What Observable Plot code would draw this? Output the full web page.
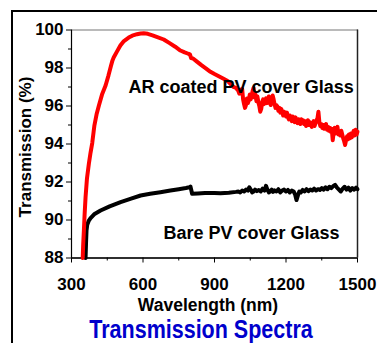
<!DOCTYPE html>
<html><head><meta charset="utf-8">
<script src="https://cdn.jsdelivr.net/npm/d3@7"></script>
<script src="https://cdn.jsdelivr.net/npm/@observablehq/plot@0.6"></script>
<style>
body{margin:0;background:#fff;}
#wrap{position:relative;width:377px;height:343px;overflow:hidden;background:#fff;font-family:"Liberation Sans",Arial,sans-serif;}
#border{position:absolute;left:11px;top:10px;width:400px;height:400px;border-top:2px solid #000;border-left:2px solid #000;pointer-events:none;}
#chart{position:absolute;left:0;top:0;}
#title{position:absolute;left:0;top:317px;width:402px;text-align:center;font-size:25px;line-height:25px;font-weight:bold;color:#0000cc;transform:scaleX(0.86);transform-origin:201px 0;white-space:nowrap;}
</style></head>
<body><div id="wrap"><div id="chart"></div><div id="title">Transmission Spectra</div><div id="border"></div></div>
<script>
const xTicks = [300, 600, 900, 1200, 1500];
const xMinor = [450, 750, 1050, 1350];
const yTicks = [88, 90, 92, 94, 96, 98, 100];
const yMinor = [89, 91, 93, 95, 97, 99];

const arW = [347,349,352,355,359,365,373,380,387,396,405,415,428,443,455,466,472,477,490,505,520,540,555,575,590,603,620,640,660,687,710,735,757,775,790,797,802,810,825,845,865,883,900,920,940,955,968,980,990,
1000,1004,1008,1012,1016,1020,1024,1028,1032,1036,
1040,1044,1048,1052,1056,1060,1064,1068,1072,1076,
1080,1084,1088,1092,1096,1100,1104,1108,1112,1116,
1120,1124,1128,1132,1136,1140,1144,1148,1152,1156,
1160,1164,1168,1172,1176,1180,1184,1188,1192,1196,
1200,1204,1208,1212,1216,1220,1224,1228,1232,1236,
1240,1244,1248,1252,1256,1260,1264,1268,1272,1276,
1280,1284,1288,1292,1296,1300,1304,1308,1312,1316,
1320,1324,1328,1332,1336,1340,1344,1348,1352,1356,
1360,1364,1368,1372,1376,1380,1384,1388,1392,1396,
1400,1404,1408,1412,1416,1420,1424,1428,1432,1436,
1440,1444,1448,1452,1456,1460,1464,1468,1472,1476,
1480,1484,1488,1492,1496,1500];
const arT = [88.0,88.7,89.45,90.3,91.2,92.2,92.97,93.55,94.05,94.97,95.55,96.03,96.6,97.08,97.6,98.13,98.4,98.55,98.85,99.18,99.42,99.6,99.7,99.78,99.82,99.83,99.8,99.72,99.63,99.5,99.32,99.12,98.92,98.82,98.75,98.72,98.52,98.5,98.35,98.15,97.97,97.8,97.68,97.55,97.42,97.32,97.15,97.0,96.95,
96.8,96.65,96.85,96.7,96.9,96.35,96.1,95.9,96.05,96.4,
96.15,96.3,96.6,96.35,96.55,96.8,96.95,96.45,96.6,96.25,
96.5,96.2,96.0,95.7,95.85,96.2,96.35,96.1,96.3,96.4,
96.15,96.35,96.5,96.2,96.05,96.3,96.55,96.35,96.1,95.9,
96.05,95.95,95.75,95.9,95.65,95.85,95.7,95.5,95.7,95.55,
95.45,95.65,95.4,95.3,95.5,95.35,95.2,95.45,95.3,95.15,
95.4,95.25,95.1,95.3,95.2,95.05,95.3,95.15,95.25,95.05,
95.2,94.95,95.15,95.25,95.0,95.15,95.05,94.9,95.1,95.2,
94.95,95.1,95.25,95.35,95.7,95.15,94.95,95.05,94.85,95.0,
94.8,94.95,95.05,94.75,94.9,94.7,94.85,94.65,94.8,94.2,
94.6,94.85,94.55,94.75,94.9,94.5,94.65,94.45,94.7,94.5,
94.3,94.15,93.95,94.2,94.4,94.25,94.5,94.3,94.55,94.35,
94.5,94.7,94.45,94.75,94.5,94.65];

const bareW = [359,361,363,366,372,380,395,422,460,506,550,590,630,673,715,750,780,795,799,803,806,830,860,900,925,960,990,
1000,1008,1016,1024,1032,1040,1046,1052,1058,1064,1070,1078,1086,1094,1102,1110,1116,1122,1128,1134,1140,1146,1152,1160,1168,1176,1184,1192,1200,1208,1216,1224,1232,1238,1244,1250,1256,1262,1270,1278,1286,1294,1302,1310,1318,1326,1334,1342,1350,1358,1366,1374,1382,1390,1398,1406,1414,1422,1430,1438,1446,1454,1462,1470,1478,1486,1494,1500];
const bareT = [88.0,88.8,89.45,89.75,89.95,90.1,90.3,90.5,90.72,90.94,91.12,91.29,91.38,91.46,91.55,91.62,91.68,91.72,91.76,91.55,91.38,91.4,91.42,91.42,91.41,91.44,91.48,
91.5,91.45,91.55,91.5,91.6,91.55,91.72,91.6,91.45,91.5,91.6,91.52,91.58,91.5,91.65,91.55,91.8,91.6,91.45,91.5,91.6,91.48,91.56,91.5,91.62,91.45,91.55,91.6,91.5,91.58,91.45,91.55,91.5,91.35,91.05,91.3,91.5,91.45,91.58,91.5,91.62,91.52,91.6,91.55,91.65,91.55,91.62,91.58,91.68,91.6,91.72,91.62,91.75,91.68,91.78,91.85,91.7,91.6,91.5,91.65,91.75,91.6,91.7,91.55,91.68,91.6,91.7,91.62];

const ar = arW.map((w, i) => ({w, t: arT[i]}));
const bare = bareW.map((w, i) => ({w, t: bareT[i]}));

const chart = Plot.plot({
  width: 377, height: 316,
  marginLeft: 71, marginRight: 20, marginTop: 29.5, marginBottom: 58.5,
  style: {fontFamily: "'Liberation Sans', Arial, sans-serif", fontWeight: "bold", color: "#000", background: "transparent", overflow: "visible"},
  x: {domain: [300, 1500]},
  y: {domain: [88, 100]},
  marks: [
    Plot.frame({stroke: "#777", strokeWidth: 1}),
    Plot.axisX({ticks: xMinor, tickSize: 3, tickFormat: () => "", label: null}),
    Plot.axisX({ticks: xTicks, tickSize: 5, tickPadding: 15, fontSize: 17, label: null, tickFormat: d => String(d)}),
    Plot.axisY({ticks: yMinor, tickSize: 3, tickFormat: () => "", label: null}),
    Plot.axisY({ticks: yTicks, tickSize: 5, tickPadding: 3, fontSize: 17, label: null, tickFormat: d => String(d)}),
    Plot.ruleY([88], {stroke: "#000", strokeWidth: 1.5}),
    Plot.ruleX([300], {stroke: "#000", strokeWidth: 1.2}),
    Plot.ruleX([1500], {stroke: "#222", strokeWidth: 1.5}),
    Plot.line(bare, {x: "w", y: "t", stroke: "#000", strokeWidth: 4, strokeLinejoin: "round"}),
    Plot.line(ar, {x: "w", y: "t", stroke: "#ff0000", strokeWidth: 4, strokeLinejoin: "round"}),
    Plot.text(["AR coated PV cover Glass"], {x: 1484, y: 97.0, text: d => d, textAnchor: "end", lineAnchor: "middle", fontSize: 18, fontWeight: "bold", fill: "#000"}),
    Plot.text(["Bare PV cover Glass"], {x: 1425, y: 89.29, text: d => d, textAnchor: "end", lineAnchor: "middle", fontSize: 18, fontWeight: "bold", fill: "#000"}),
    Plot.text(["Wavelength (nm)"], {frameAnchor: "bottom", text: d => d, textAnchor: "middle", dx: -6.5, dy: 40.5, lineAnchor: "top", fontSize: 17.5, fontWeight: "bold", fill: "#000"}),
    Plot.text(["Transmission (%)"], {frameAnchor: "left", text: d => d, textAnchor: "middle", rotate: -90, dx: -45.5, dy: 3, lineAnchor: "middle", fontSize: 17, fontWeight: "bold", fill: "#000"})
  ]
});
document.getElementById("chart").appendChild(chart);
</script></body></html>
